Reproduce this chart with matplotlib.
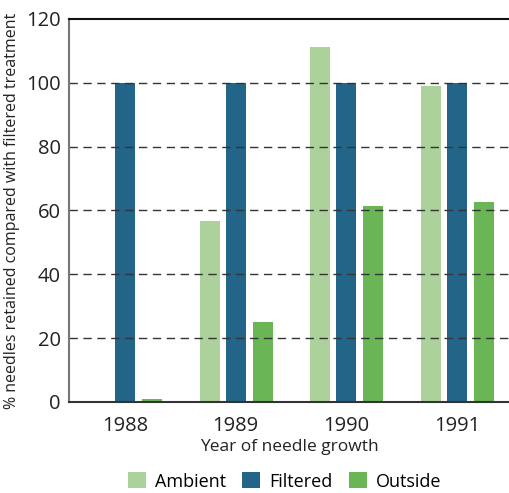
import matplotlib.pyplot as plt
import numpy as np

plt.rcParams['font.family'] = ['Open Sans', 'DejaVu Sans']

years = ['1988', '1989', '1990', '1991']
ambient = [0, 56.7, 111.2, 99.1]
filtered = [100, 100, 100, 100]
outside = [1, 25.2, 61.3, 62.6]

colors = {'Ambient': '#acd19a', 'Filtered': '#236589', 'Outside': '#6ab556'}

fig = plt.figure(figsize=(5.1, 4.93), dpi=100)
ax = fig.add_axes([0.135, 0.1846, 0.863, 0.777])

x = np.arange(len(years))
w = 0.18
ax.bar(x - 0.235, ambient, w, color=colors['Ambient'], label='Ambient', zorder=1)
ax.bar(x, filtered, w, color=colors['Filtered'], label='Filtered', zorder=1)
ax.bar(x + 0.245, outside, w, color=colors['Outside'], label='Outside', zorder=1)

ax.set_xlim(-0.506, 3.47)
ax.set_ylim(0, 120)
ax.set_yticks(range(0, 121, 20))
ax.set_xticks(x)
ax.set_xticklabels(years)
ax.tick_params(length=0, labelsize=14.5, colors='#222222')
ax.tick_params(axis='x', pad=10)
ax.tick_params(axis='y', pad=6)

for v in range(20, 101, 20):
    ax.axhline(v, color='#333333', lw=1.0, ls=(0, (6, 4)), zorder=2)

ax.spines['right'].set_visible(False)
ax.spines['top'].set_color('#111111')
ax.spines['top'].set_linewidth(1.5)
ax.spines['left'].set_color('#777777')
ax.spines['left'].set_linewidth(1.5)
ax.spines['bottom'].set_color('#333333')
ax.spines['bottom'].set_linewidth(1.5)

ax.set_xlabel('Year of needle growth', fontsize=12.5, color='#222222', labelpad=2)
ax.set_ylabel('% needles retained compared with filtered treatment', fontsize=11.5,
              color='#222222', labelpad=4)

fig.legend(loc='lower center', bbox_to_anchor=(0.558, -0.028), ncol=3, frameon=False,
           fontsize=13, handlelength=1.0, handleheight=1.0, handletextpad=0.5,
           columnspacing=0.9)

fig.savefig('out.png', dpi=100)
